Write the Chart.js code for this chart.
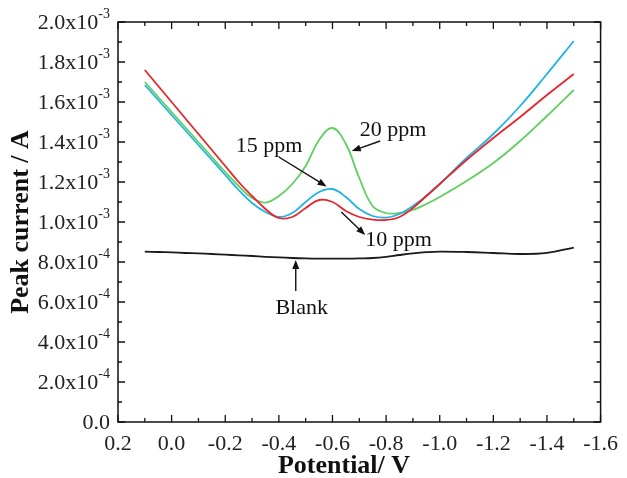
<!DOCTYPE html>
<html>
<head>
<meta charset="utf-8">
<script src="https://cdn.jsdelivr.net/npm/chart.js@4.4.1/dist/chart.umd.min.js"></script>
<style>
    html, body { margin: 0; padding: 0; background: #fff; }
    canvas { display: block; }
</style>
</head>
<body>
<canvas id="myChart" width="627" height="478"></canvas>
<script>
// potential (V), shared by all curves
var potential = [0.1, 0.05, 0, -0.05, -0.1, -0.15, -0.2, -0.25, -0.3, -0.35, -0.4, -0.45, -0.5, -0.55,
    -0.6, -0.65, -0.7, -0.75, -0.8, -0.85, -0.9, -0.95, -1.0, -1.1, -1.2, -1.3, -1.4, -1.5];

// peak current in units of 1e-3 A
var blank = [0.852, 0.850, 0.848, 0.845, 0.843, 0.840, 0.837, 0.833, 0.830, 0.826, 0.823, 0.820, 0.818, 0.817,
    0.817, 0.817, 0.818, 0.820, 0.826, 0.835, 0.843, 0.849, 0.852, 0.850, 0.845, 0.840, 0.846, 0.872];
var ppm10 = [1.76, 1.68, 1.60, 1.52, 1.44, 1.36, 1.28, 1.20, 1.13, 1.065, 1.02, 1.025, 1.07, 1.11,
    1.10, 1.055, 1.025, 1.012, 1.01, 1.025, 1.07, 1.13, 1.19, 1.31, 1.42, 1.525, 1.635, 1.74];
var ppm15 = [1.685, 1.61, 1.535, 1.46, 1.385, 1.31, 1.235, 1.16, 1.095, 1.05, 1.025, 1.045, 1.10, 1.15,
    1.165, 1.125, 1.065, 1.03, 1.022, 1.04, 1.08, 1.13, 1.19, 1.32, 1.44, 1.58, 1.74, 1.905];
var ppm20 = [1.70, 1.625, 1.55, 1.475, 1.40, 1.325, 1.25, 1.18, 1.12, 1.097, 1.13, 1.19, 1.28, 1.41,
    1.47, 1.39, 1.22, 1.08, 1.045, 1.045, 1.06, 1.09, 1.125, 1.205, 1.295, 1.405, 1.53, 1.66];

var xTickValues = [0.2, 0.0, -0.2, -0.4, -0.6, -0.8, -1.0, -1.2, -1.4, -1.6];
var xTickLabels = ['0.2', '0.0', '-0.2', '-0.4', '-0.6', '-0.8', '-1.0', '-1.2', '-1.4', '-1.6'];
var yTickValues = [0, 2e-4, 4e-4, 6e-4, 8e-4, 1e-3, 1.2e-3, 1.4e-3, 1.6e-3, 1.8e-3, 2e-3];
var yTickMantissa = ['0.0', '2.0', '4.0', '6.0', '8.0', '1.0', '1.2', '1.4', '1.6', '1.8', '2.0'];
var yTickExponent = ['', '-4', '-4', '-4', '-4', '-3', '-3', '-3', '-3', '-3', '-3'];

// labels with arrows: text position, arrow tail, arrow head (V, 1e-3 A)
var notes = [
    { text: '20 ppm', at: [-0.826, 1.46], from: [-0.778, 1.405], to: [-0.672, 1.355] },
    { text: '15 ppm', at: [-0.363, 1.38], from: [-0.40, 1.325], to: [-0.578, 1.178] },
    { text: '10 ppm', at: [-0.846, 0.91], from: [-0.633, 1.05], to: [-0.722, 0.935] },
    { text: 'Blank', at: [-0.485, 0.57], from: [-0.463, 0.655], to: [-0.463, 0.81] }
];

var serif = '"Liberation Serif", "Times New Roman", serif';

function series(values) {
    return potential.map(function (x, i) {
        return { x: x, y: values[i] * 1e-3 };
    });
}

function line(label, values, color) {
    return {
        label: label,
        data: series(values),
        borderColor: color,
        borderWidth: 1.8,
        pointRadius: 0,
        tension: 0.4,
        showLine: true,
        fill: false
    };
}

function arrow(ctx, x1, y1, x2, y2) {
    var a = Math.atan2(y2 - y1, x2 - x1);
    var len = 9, w = 3.5;
    ctx.beginPath();
    ctx.moveTo(x1, y1);
    ctx.lineTo(x2 - Math.cos(a) * len * 0.8, y2 - Math.sin(a) * len * 0.8);
    ctx.stroke();
    ctx.beginPath();
    ctx.moveTo(x2, y2);
    ctx.lineTo(x2 - Math.cos(a) * len - Math.sin(a) * w, y2 - Math.sin(a) * len + Math.cos(a) * w);
    ctx.lineTo(x2 - Math.cos(a) * len + Math.sin(a) * w, y2 - Math.sin(a) * len - Math.cos(a) * w);
    ctx.closePath();
    ctx.fill();
}

// frame, inward ticks, y labels, axis titles and notes
var decor = {
    id: 'decor',
    afterDraw: function (chart) {
        var ctx = chart.ctx;
        var area = chart.chartArea;
        var xs = chart.scales.x;
        var ys = chart.scales.y;
        ctx.save();
        ctx.strokeStyle = '#111';
        ctx.fillStyle = '#111';
        ctx.lineWidth = 1.5;
        ctx.strokeRect(area.left, area.top, area.right - area.left, area.bottom - area.top);

        ctx.lineWidth = 1.3;
        var i, p, len;
        for (i = 0; i <= 18; i++) {
            p = xs.getPixelForValue(0.2 - i * 0.1);
            len = i % 2 === 0 ? 7 : 4;
            ctx.beginPath();
            ctx.moveTo(p, area.bottom); ctx.lineTo(p, area.bottom - len);
            ctx.moveTo(p, area.top); ctx.lineTo(p, area.top + len);
            ctx.stroke();
        }
        for (i = 0; i <= 20; i++) {
            p = ys.getPixelForValue(i * 1e-4);
            len = i % 2 === 0 ? 7 : 4;
            ctx.beginPath();
            ctx.moveTo(area.left, p); ctx.lineTo(area.left + len, p);
            ctx.moveTo(area.right, p); ctx.lineTo(area.right - len, p);
            ctx.stroke();
        }

        // y tick labels with superscript exponent
        ctx.fillStyle = '#222';
        ctx.textBaseline = 'middle';
        var right = area.left - 8;
        yTickValues.forEach(function (v, k) {
            var py = ys.getPixelForValue(v) + 1;
            var exp = yTickExponent[k];
            ctx.textAlign = 'left';
            ctx.font = '14px ' + serif;
            var ew = exp ? ctx.measureText(exp).width : 0;
            ctx.font = '22px ' + serif;
            var main = exp ? yTickMantissa[k] + 'x10' : yTickMantissa[k];
            var mw = ctx.measureText(main).width;
            var x0 = right - ew - mw;
            ctx.fillText(main, x0, py);
            if (exp) {
                ctx.font = '14px ' + serif;
                ctx.fillText(exp, x0 + mw, py - 9);
            }
        });

        // axis titles
        ctx.fillStyle = '#111';
        ctx.font = 'bold 26px ' + serif;
        ctx.textAlign = 'center';
        ctx.fillText('Potential/ V', 344, 466);
        ctx.save();
        ctx.translate(21, (area.top + area.bottom) / 2);
        ctx.rotate(-Math.PI / 2);
        ctx.fillText('Peak current / A', 0, 0);
        ctx.restore();

        // notes with arrows
        ctx.font = '22px ' + serif;
        ctx.fillStyle = '#111';
        ctx.lineWidth = 1.4;
        notes.forEach(function (n) {
            ctx.fillText(n.text, xs.getPixelForValue(n.at[0]), ys.getPixelForValue(n.at[1] * 1e-3));
            arrow(ctx,
                xs.getPixelForValue(n.from[0]), ys.getPixelForValue(n.from[1] * 1e-3),
                xs.getPixelForValue(n.to[0]), ys.getPixelForValue(n.to[1] * 1e-3));
        });
        ctx.restore();
    }
};

var ctx = document.getElementById('myChart');

var data = {
    datasets: [
        line('Blank', blank, '#1a1a1a'),
        line('10 ppm', ppm10, '#e8252b'),
        line('15 ppm', ppm15, '#22b2e6'),
        line('20 ppm', ppm20, '#5fcf5f')
    ]
};

var option = {
    responsive: false,
    animation: false,
    layout: { padding: { top: 22, right: 23, left: 0, bottom: 0 } },
    plugins: {
        legend: { display: false },
        tooltip: { enabled: false }
    },
    scales: {
        x: {
            type: 'linear',
            min: -1.6,
            max: 0.2,
            reverse: true,
            grid: { display: false, drawTicks: false },
            border: { display: false },
            afterBuildTicks: function (scale) {
                scale.ticks = xTickValues.map(function (v) { return { value: v }; });
            },
            afterFit: function (scale) { scale.height = 56; },
            ticks: {
                autoSkip: false,
                maxRotation: 0,
                padding: 9,
                color: '#222',
                font: { family: serif, size: 22 },
                callback: function (value, index) { return xTickLabels[index]; }
            }
        },
        y: {
            min: 0,
            max: 2e-3,
            grid: { display: false, drawTicks: false },
            border: { display: false },
            ticks: { display: false },
            afterFit: function (scale) { scale.width = 118; }
        }
    }
};

var myChart = new Chart(ctx, {
    type: 'scatter',
    data: data,
    options: option,
    plugins: [decor]
});
</script>
</body>
</html>
